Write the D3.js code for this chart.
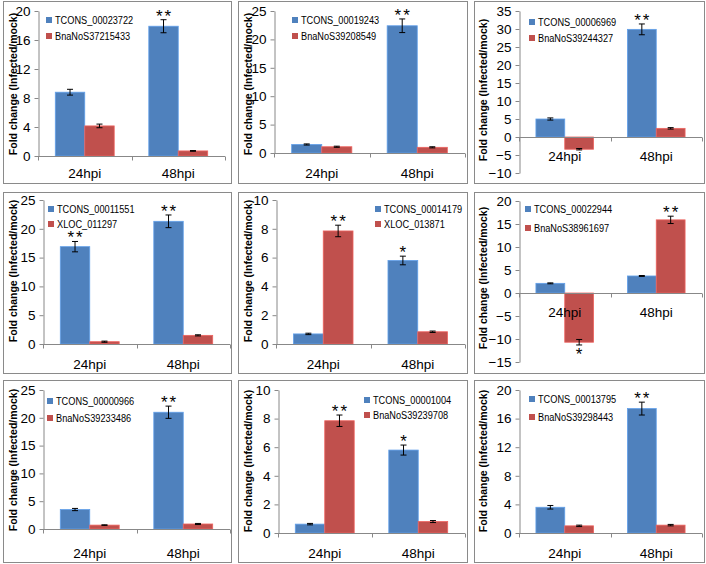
<!DOCTYPE html>
<html>
<head>
<meta charset="utf-8">
<script src="https://cdn.jsdelivr.net/npm/d3@7"></script>
<style>
  html, body { margin: 0; padding: 0; background: #fff; }
  svg { display: block; }
  text { font-family: "Liberation Sans", Arial, sans-serif; fill: #000; }
</style>
</head>
<body>
<svg id="chart" width="706" height="564"></svg>
<script>
// ---------- DATA ----------
const categories = ["24hpi", "48hpi"];
const seriesA = ["TCONS_00023722", "TCONS_00019243", "TCONS_00006969",
                 "TCONS_00011551", "TCONS_00014179", "TCONS_00022944",
                 "TCONS_00000966", "TCONS_00001004", "TCONS_00013795"];
const seriesB = ["BnaNoS37215433", "BnaNoS39208549", "BnaNoS39244327",
                 "XLOC_011297", "XLOC_013871", "BnaNoS38961697",
                 "BnaNoS39233486", "BnaNoS39239708", "BnaNoS39298443"];
const valuesA = [[8.8, 17.9], [1.5, 22.4], [5.0, 29.9],
                 [16.9, 21.3], [0.7, 5.8], [2.1, 3.7],
                 [3.5, 21.0], [0.62, 5.8], [3.6, 17.4]];
const valuesB = [[4.15, 0.7], [1.1, 1.0], [-3.4, 2.4],
                 [0.4, 1.5], [7.85, 0.85], [-10.7, 15.9],
                 [0.7, 0.9], [7.85, 0.8], [1.0, 1.1]];
const errorsA = [[0.4, 0.9], [0.1, 1.2], [0.3, 1.5],
                 [0.9, 1.1], [0.05, 0.3], [0.1, 0.1],
                 [0.2, 1.1], [0.05, 0.35], [0.25, 0.9]];
const errorsB = [[0.25, 0.05], [0.1, 0.1], [0.2, 0.2],
                 [0.1, 0.1], [0.4, 0.05], [0.6, 0.8],
                 [0.05, 0.1], [0.4, 0.07], [0.1, 0.1]];
const signifA = [["", "**"], ["", "**"], ["", "**"],
                 ["**", "**"], ["", "*"], ["", ""],
                 ["", "**"], ["", "*"], ["", "**"]];
const signifB = [["", ""], ["", ""], ["", ""],
                 ["", ""], ["**", ""], ["*", "**"],
                 ["", ""], ["**", ""], ["", ""]];
const yDomains = [[0, 20], [0, 25], [-10, 35],
                  [0, 25], [0, 10], [-15, 20],
                  [0, 25], [0, 10], [0, 20]];
const yTickSteps = [4, 5, 5, 5, 2, 5, 5, 2, 4];
const yTitle = "Fold change (Infected/mock)";

// ---------- LAYOUT (pixel positions only) ----------
const colBox = [[3, 231], [238, 467], [474, 704]];
const rowBox = [[1, 183], [192, 373], [380, 562]];
const layout = [
  {ax: 38,  xe: 225, yt: 11,  yb: 156, lx: 46,  ly: [20, 36],   lab: 178, ytx: 13,  yty: 84},
  {ax: 274, xe: 465, yt: 11,  yb: 153, lx: 292, ly: [20, 36],   lab: 178, ytx: 248, yty: 84},
  {ax: 519, xe: 702, yt: 11,  yb: 173, lx: 529, ly: [22, 38],   lab: 161, ytx: 483, yty: 90},
  {ax: 43,  xe: 230, yt: 200, yb: 344, lx: 48,  ly: [209, 224], lab: 369, ytx: 13,  yty: 271},
  {ax: 276, xe: 465, yt: 200, yb: 344, lx: 375, ly: [209, 224], lab: 369, ytx: 248, yty: 271},
  {ax: 519, xe: 702, yt: 201, yb: 362, lx: 525, ly: [209, 228], lab: 317, ytx: 483, yty: 278},
  {ax: 43,  xe: 230, yt: 390, yb: 529, lx: 47,  ly: [401, 418], lab: 558, ytx: 13,  yty: 460},
  {ax: 278, xe: 465, yt: 390, yb: 533, lx: 364, ly: [400, 415], lab: 558, ytx: 248, yty: 461},
  {ax: 519, xe: 702, yt: 390, yb: 533, lx: 529, ly: [399, 417], lab: 558, ytx: 483, yty: 461}
];
const colorA = "#4F81BD", colorB = "#C0504D";
const FONT = "'Liberation Sans', Arial, sans-serif";

const svg = d3.select("#chart");

layout.forEach((L, i) => {
  const r = Math.floor(i / 3), c = i % 3;
  const g = svg.append("g");
  // panel border
  g.append("rect")
    .attr("x", colBox[c][0] + 0.5).attr("y", rowBox[r][0] + 0.5)
    .attr("width", colBox[c][1] - colBox[c][0]).attr("height", rowBox[r][1] - rowBox[r][0])
    .attr("fill", "#fff").attr("stroke", "#8a8a8a").attr("stroke-width", 1);

  const y = d3.scaleLinear().domain(yDomains[i]).range([L.yb, L.yt]);
  const x0 = d3.scaleBand().domain(categories).range([L.ax, L.xe]);
  const bw = x0.bandwidth() * 0.315;
  const x1 = d3.scaleBand().domain(["A", "B"]).range([-bw, bw]);

  // y axis
  const ticks = d3.range(yDomains[i][0], yDomains[i][1] + 1e-9, yTickSteps[i]);
  const yAxis = d3.axisLeft(y).tickValues(ticks).tickSize(4).tickSizeOuter(0).tickPadding(4);
  const ya = g.append("g").attr("transform", `translate(${L.ax + 0.5},0)`).call(yAxis);
  ya.select(".domain").attr("stroke", "#888");
  ya.selectAll(".tick line").attr("stroke", "#888");
  ya.selectAll(".tick text").attr("font-size", 13.5).attr("fill", "#000").attr("font-family", FONT);

  const zeroY = Math.round(y(0)) + 0.5;

  const rows = categories.map((cat, k) => ({cat, k}));
  const drawSeries = (key, vals, color) => {
    rows.forEach(({cat, k}) => {
      const v = vals[i][k];
      const bx = x0(cat) + x0.bandwidth() / 2 + x1(key);
      const top = Math.min(y(v), y(0)), h = Math.abs(y(v) - y(0));
      g.append("rect").attr("x", bx).attr("y", top).attr("width", x1.bandwidth()).attr("height", h)
        .attr("fill", color).attr("stroke", d3.color(color).brighter(0.6)).attr("stroke-width", 0.8);
    });
  };
  const drawErr = (key, vals, errs, sig) => {
    rows.forEach(({cat, k}) => {
      const v = vals[i][k], e = errs[i][k];
      const cx = x0(cat) + x0.bandwidth() / 2 + x1(key) + x1.bandwidth() / 2;
      const yl = y(v - e), yh = y(v + e);
      g.append("line").attr("x1", cx).attr("x2", cx).attr("y1", yl).attr("y2", yh)
        .attr("stroke", "#000").attr("stroke-width", 1);
      [yl, yh].forEach(yy => g.append("line").attr("x1", cx - 3).attr("x2", cx + 3)
        .attr("y1", yy).attr("y2", yy).attr("stroke", "#000").attr("stroke-width", 1));
      const s = sig[i][k];
      if (s) {
        const neg = v < 0;
        g.append("text").attr("x", cx + 1).attr("text-anchor", "middle")
          .attr("y", neg ? y(v - e) + 15 : y(v + e) + 2)
          .attr("font-size", 17).attr("letter-spacing", 2).text(s);
      }
    });
  };
  drawSeries("A", valuesA, colorA);
  drawSeries("B", valuesB, colorB);

  // x axis line at zero with between-category ticks
  g.append("line").attr("x1", L.ax).attr("x2", L.xe).attr("y1", zeroY).attr("y2", zeroY)
    .attr("stroke", "#888");
  [L.ax, (L.ax + L.xe) / 2, L.xe].forEach(tx => {
    g.append("line").attr("x1", Math.round(tx) + 0.5).attr("x2", Math.round(tx) + 0.5)
      .attr("y1", zeroY).attr("y2", zeroY + 4).attr("stroke", "#888");
  });

  drawErr("A", valuesA, errorsA, signifA);
  drawErr("B", valuesB, errorsB, signifB);

  // category labels
  categories.forEach(cat => {
    g.append("text").attr("x", x0(cat) + x0.bandwidth() / 2).attr("y", L.lab)
      .attr("text-anchor", "middle").attr("font-size", 13.5).text(cat);
  });

  // y title
  g.append("text").attr("transform", `translate(${L.ytx + 4},${L.yty}) rotate(-90)`)
    .attr("text-anchor", "middle").attr("font-size", 10.5).attr("font-weight", "bold").text(yTitle);

  // legend (text horizontally condensed to mimic Calibri widths)
  [[seriesA[i], colorA], [seriesB[i], colorB]].forEach(([name, col], j) => {
    g.append("rect").attr("x", L.lx).attr("y", L.ly[j] - 3).attr("width", 6).attr("height", 6).attr("fill", col);
    g.append("text")
      .attr("transform", `translate(${L.lx + 9},${L.ly[j] + 4}) scale(0.8,1)`)
      .attr("font-size", 11.5).text(name);
  });
});
</script>
</body>
</html>
